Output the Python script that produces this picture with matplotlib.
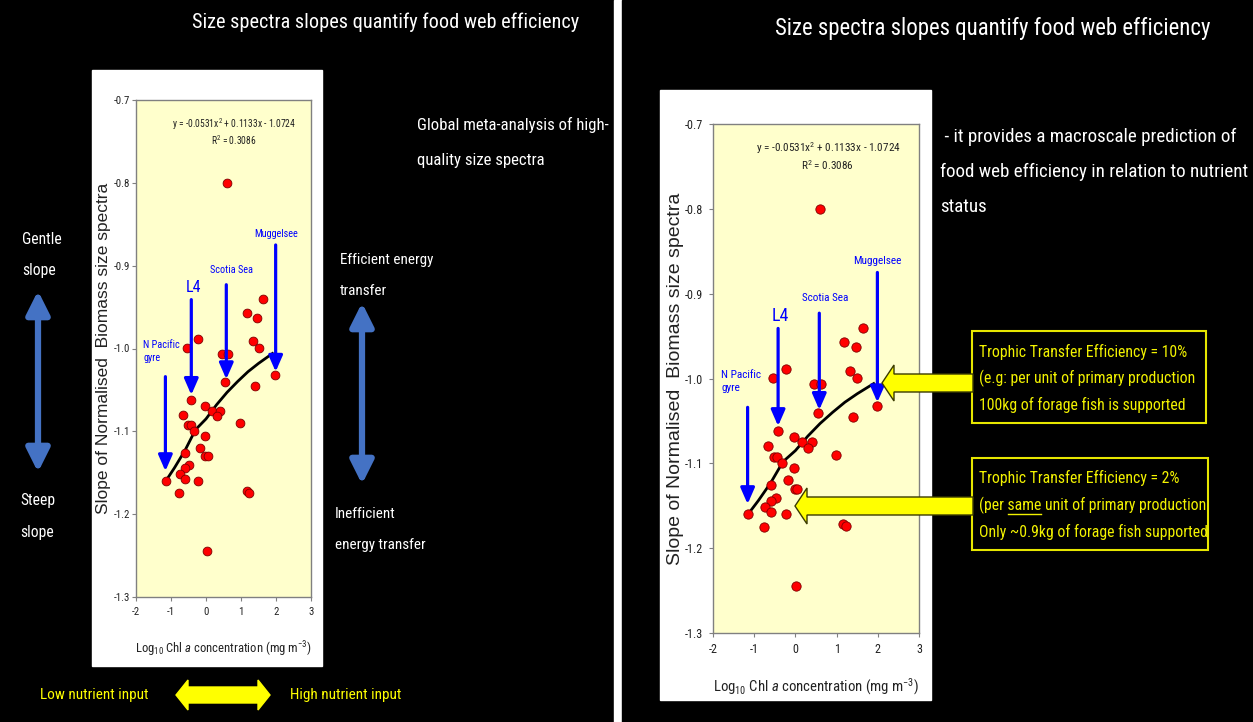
import matplotlib
matplotlib.use("Agg")
import matplotlib.pyplot as plt
from matplotlib import font_manager
from matplotlib.patches import Rectangle, Polygon, FancyArrowPatch

ttf = font_manager.fontManager.ttflist
names = {f.name for f in ttf}
SANS = 'Liberation Sans' if 'Liberation Sans' in names else 'DejaVu Sans'
NARROW, NSTRETCH = SANS, 'normal'
for p in ['Liberation Sans Narrow', 'Arial Narrow', 'Roboto Condensed',
          'Open Sans Condensed', 'DejaVu Sans Condensed']:
    if p in names:
        NARROW = p
        break
else:
    for f in ttf:
        if f.stretch in ('condensed', 'semi-condensed') and f.style == 'normal':
            NARROW, NSTRETCH = f.name, f.stretch
            break

plt.rcParams['font.family'] = [NARROW, 'DejaVu Sans']
plt.rcParams['font.stretch'] = NSTRETCH
plt.rcParams['mathtext.fontset'] = 'custom'
plt.rcParams['mathtext.rm'] = NARROW
plt.rcParams['mathtext.it'] = NARROW + ':italic'

# data (log10 chl a vs size spectra slope)
chl_log10 = [0.60, 1.64, 1.18, 1.47, -0.24, -0.55, 1.33, 1.50, 0.45, 0.63,
             1.98, 0.55, 1.41, -0.42, -0.03, 0.17, 0.40, 0.31, -0.67, -0.51,
             -0.44, -0.33, 0.98, -0.03, -0.17, -0.59, -0.02, 0.05, -0.48, -0.60,
             -0.74, -0.59, -1.15, -0.22, -0.76, 1.16, 1.22, 0.02]
slope = [-0.800, -0.940, -0.957, -0.963, -0.989, -0.999, -0.991, -0.999, -1.007, -1.007,
         -1.032, -1.041, -1.045, -1.062, -1.069, -1.075, -1.075, -1.082, -1.080, -1.092,
         -1.092, -1.100, -1.090, -1.106, -1.120, -1.126, -1.130, -1.130, -1.141, -1.144,
         -1.151, -1.157, -1.160, -1.160, -1.175, -1.172, -1.174, -1.245]

# trendline as drawn
trend_x = [-1.15, -0.9, -0.6, -0.3, 0.0, 0.3, 0.6, 0.9, 1.2, 1.5, 1.9]
trend_y = [-1.160, -1.144, -1.123, -1.098, -1.085, -1.068, -1.053, -1.040, -1.028, -1.018, -1.006]
eq_text = 'y = -0.0531x$^2$ + 0.1133x - 1.0724\nR$^2$ = 0.3086'

# labelled sites
site_names = ['N Pacific\ngyre', 'L4', 'Scotia Sea', 'Muggelsee']
site_label_x = [-1.80, -0.37, 0.73, 1.99]
site_label_y = [-1.004, -0.926, -0.905, -0.862]
arrow_x = [-1.16, -0.42, 0.58, 1.99]
arrow_top = [-1.034, -0.941, -0.923, -0.875]
arrow_tip = [-1.148, -1.056, -1.037, -1.028]

xticks = [-2, -1, 0, 1, 2, 3]
yticks = [-1.3, -1.2, -1.1, -1.0, -0.9, -0.8, -0.7]

W, H = 1253, 722
fig = plt.figure(figsize=(W / 100, H / 100), dpi=100, facecolor='black')
renderer = fig.canvas.get_renderer()


def text_width(s, **kw):
    t = fig.text(0, 0, s, **kw)
    w = t.get_window_extent(renderer).width
    t.remove()
    return w


# sizes below are for an Arial Narrow-like face; k rescales to the face we got
sample = 'Size spectra slopes quantify food web efficiency'
k = 0.82 * text_width(sample, family=SANS, fontstretch='normal', fontsize=10) / \
    text_width(sample, fontsize=10)

bg = fig.add_axes([0, 0, 1, 1], zorder=0)
bg.set_xlim(0, W); bg.set_ylim(H, 0); bg.axis('off')
bg.add_patch(Rectangle((0, 0), 614, H, color='black'))
bg.add_patch(Rectangle((614, 0), 8, H, color='white'))
bg.add_patch(Rectangle((622, 0), W - 622, H, color='black'))
bg.add_patch(Rectangle((92, 70), 230, 596, color='white'))
bg.add_patch(Rectangle((660, 90), 271, 610, color='white'))


def draw_chart(ax, tick_fs, ypad, eq_fs, site_fs, l4_fs, ylab_fs, ylab_x, xlab_fs, ms):
    ax.set_facecolor('#FFFFCC')
    for s in ax.spines.values():
        s.set_color('#808080')
        s.set_linewidth(1)
    ax.plot(trend_x, trend_y, color='black', lw=2, zorder=3)
    ax.scatter(chl_log10, slope, s=ms, color='#FF0000', edgecolor='#7F0000',
               linewidth=0.6, zorder=4)
    ax.set_xlim(-2, 3)
    ax.set_ylim(-1.3, -0.7)
    ax.set_xticks(xticks)
    ax.set_xticklabels([str(t) for t in xticks])
    ax.set_yticks(yticks)
    ax.set_yticklabels(['%.1f' % t for t in yticks])
    ax.tick_params(direction='out', length=3, color='#808080', labelcolor='#222222',
                   labelsize=tick_fs * k)
    ax.tick_params(axis='y', pad=ypad)
    ax.tick_params(axis='x', pad=4)
    ax.set_ylabel('Slope of Normalised  Biomass size spectra', family=SANS,
                  fontstretch='normal', fontsize=ylab_fs, color='#222222', va='center')
    ax.yaxis.set_label_coords(ylab_x, 0.5)
    ax.set_xlabel('Log$_{10}$ Chl $a$ concentration (mg m$^{-3}$)', fontsize=xlab_fs * k,
                  color='#222222', va='center')
    ax.xaxis.set_label_coords(0.5, -0.105)
    ax.text(0.79, -0.738, eq_text, ha='center', va='center', fontsize=eq_fs * k,
            color='#222222', linespacing=1.15)
    for i, name in enumerate(site_names):
        if name == 'L4':
            ax.text(site_label_x[i], site_label_y[i], name, ha='center', va='center',
                    fontsize=l4_fs * k, color='#0000FF')
        elif '\n' in name:
            ax.text(site_label_x[i], site_label_y[i], name, ha='left', va='center',
                    fontsize=site_fs * k, color='#0000FF', linespacing=1.35)
        else:
            ax.text(site_label_x[i], site_label_y[i], name, ha='center', va='center',
                    fontsize=site_fs * k, color='#0000FF')
        ax.annotate('', xy=(arrow_x[i], arrow_tip[i]), xytext=(arrow_x[i], arrow_top[i]),
                    arrowprops=dict(arrowstyle='-|>,head_length=0.8,head_width=0.35',
                                    color='#0000FF', lw=2.3, shrinkA=0, shrinkB=0,
                                    mutation_scale=12), zorder=5)


axL = fig.add_axes([136 / W, 1 - 597 / H, 175 / W, 497 / H], zorder=2)
draw_chart(axL, 8.5, 1.5, 7.5, 8, 12.5, 12.5, -0.185, 9.9, 40)
axR = fig.add_axes([713 / W, 1 - 633 / H, 206 / W, 509 / H], zorder=2)
draw_chart(axR, 9.5, 4, 8.8, 8.8, 14, 14, -0.18, 11.5, 45)

fg = fig.add_axes([0, 0, 1, 1], zorder=5)
fg.set_xlim(0, W); fg.set_ylim(H, 0); fg.axis('off')
fg.patch.set_alpha(0)


def slide_text(x, ys, lines, size, color='white', ha='left'):
    for y, s in zip(ys, lines):
        fg.text(x, y, s, color=color, fontsize=size * k, ha=ha, va='center')


# left slide text
slide_text(386, [22], ['Size spectra slopes quantify food web efficiency'], 15.8, ha='center')
slide_text(417, [125, 160], ['Global meta-analysis of high-', 'quality size spectra'], 13.1)
slide_text(22, [240, 271], ['Gentle', 'slope'], 12.2)
slide_text(20, [501, 532], ['Steep', 'slope'], 12.2)
slide_text(340, [260, 291], ['Efficient energy', 'transfer'], 11.8)
slide_text(335, [514, 545], ['Inefficient', 'energy transfer'], 11.8)
blue = '#4472C4'
for x, y0, y1 in [(38, 288, 475), (362, 300, 487)]:
    fg.add_patch(FancyArrowPatch((x, y0), (x, y1),
                                 arrowstyle='<|-|>,head_length=1.0,head_width=0.5',
                                 mutation_scale=14, lw=4.5, color=blue))

yel = '#FFFF00'
slide_text(40, [695], ['Low nutrient input'], 11.9, color=yel)
slide_text(290, [695], ['High nutrient input'], 11.9, color=yel)
ax0, ax1, yc, hs, hh, hl = 176, 270, 695, 8, 15, 12
fg.add_patch(Polygon([(ax0, yc), (ax0 + hl, yc - hh), (ax0 + hl, yc - hs), (ax1 - hl, yc - hs),
                      (ax1 - hl, yc - hh), (ax1, yc), (ax1 - hl, yc + hh), (ax1 - hl, yc + hs),
                      (ax0 + hl, yc + hs), (ax0 + hl, yc + hh)], closed=True, color=yel))

# right slide text
slide_text(993, [28], ['Size spectra slopes quantify food web efficiency'], 17.8, ha='center')
slide_text(940, [137, 172, 207], [' - it provides a macroscale prediction of',
                                  'food web efficiency in relation to nutrient',
                                  'status'], 14.8)

for (x0, y0, x1, y1) in [(972, 331, 1206, 423), (972, 458, 1208, 550)]:
    fg.add_patch(Rectangle((x0, y0), x1 - x0, y1 - y0, fill=False, edgecolor='#E6E600', lw=1.5))

box_fs = 12.3
tcol = '#F2F200'
slide_text(979, [352, 378, 405], ['Trophic Transfer Efficiency = 10%',
                                  '(e.g: per unit of primary production',
                                  '100kg of forage fish is supported'], box_fs, color=tcol)
slide_text(979, [478, 505, 532], ['Trophic Transfer Efficiency = 2%',
                                  '(per same unit of primary production',
                                  'Only ~0.9kg of forage fish supported'], box_fs, color=tcol)

# underline "same"
w_pre = text_width('(per ', fontsize=box_fs * k)
w_all = text_width('(per same', fontsize=box_fs * k)
fg.plot([979 + w_pre, 979 + w_all], [514, 514], color=tcol, lw=1)

# fat yellow arrows pointing into the chart
for tip_x, yc in [(882, 383), (795, 506)]:
    hs, hh, hl, tail = 9, 18, 12, 973
    fg.add_patch(Polygon([(tip_x, yc), (tip_x + hl, yc - hh), (tip_x + hl, yc - hs),
                          (tail, yc - hs), (tail, yc + hs), (tip_x + hl, yc + hs),
                          (tip_x + hl, yc + hh)], closed=True, facecolor=yel,
                         edgecolor='#3A3A00', lw=1))

fig.savefig('out.png', dpi=100, facecolor='black')
